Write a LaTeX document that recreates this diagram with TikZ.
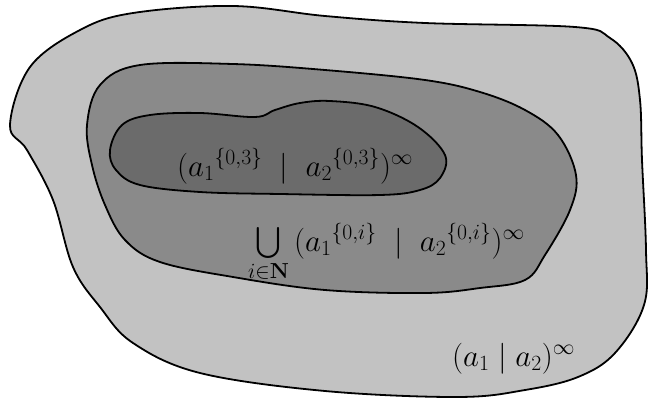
\RequirePackage{fix-cm}
\documentclass[tikz,border=0pt]{standalone}
\usepackage{amsmath,amssymb}
\usepackage{tikz}

\begin{document}
\begin{tikzpicture}[x=1pt, y=-1pt, every node/.style={font=\fontsize{31}{36}\selectfont, inner sep=0pt}, blob/.style={draw, line width=1.8pt, fill=#1}]
	\useasboundingbox (0,0) rectangle (650,399);
	\draw[blob=black!24] plot[smooth cycle, tension=0.6] coordinates {(10,125) (30,67) (80,30) (133,13) (233,6) (325,16) (425,23) (575,27) (610,38) (632,63) (640,100) (642,160) (646,250) (644,305) (615,353) (578,377) (525,390) (458,397) (325,391) (200,373) (133,343) (100,307) (73,267) (53,200) (27,150)};
	\draw[blob=black!46] plot[smooth cycle, tension=0.6] coordinates {(87,125) (100,85) (140,65) (233,64) (325,70) (425,80) (480,92) (525,110) (558,135) (576,175) (570,210) (545,255) (525,280) (480,288) (425,293) (325,290) (233,277) (160,262) (125,240) (105,205) (92,165)};
	\draw[blob=black!58] plot[smooth cycle, tension=0.6] coordinates {(110,150) (122,125) (150,115) (200,113) (255,117) (275,110) (300,103) (330,101) (375,107) (418,127) (445,155) (440,178) (420,190) (380,195) (280,194) (200,192) (140,185) (116,170)};
	\node[anchor=base west] (inner) at (177,176) {$(a_1{}^{\{0,3\}} \;\mid\; a_2{}^{\{0,3\}})^\infty$};
	\node[anchor=base west] (middle) at (248,251) {$\bigcup\limits_{i\in\mathbf{N}} \, (a_1{}^{\{0,i\}} \;\mid\; a_2{}^{\{0,i\}})^\infty$};
	\node[anchor=base west] (outer) at (452,366) {$(a_1 \mid a_2)^\infty$};
\end{tikzpicture}
\end{document}
